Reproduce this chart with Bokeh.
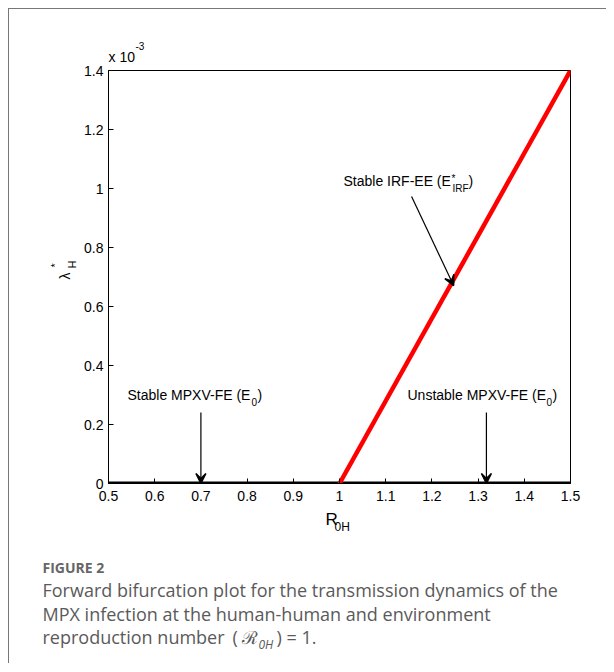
from math import pi
from bokeh.plotting import figure
from bokeh.models import (Range1d, FixedTicker, CustomJSTickFormatter, Label, Arrow, VeeHead)
from bokeh.layouts import column, row
from bokeh.embed import file_html
from bokeh.resources import INLINE

# ---- data -------------------------------------------------------------
dfe_r = [0.5, 1.5]            # disease-free equilibrium branch (lambda*_H = 0)
dfe_lambda = [0.0, 0.0]
ee_r = [1.0, 1.5]             # endemic equilibrium branch
ee_lambda = [0.0, 1.4e-3]

x_ticks = [0.5, 0.6, 0.7, 0.8, 0.9, 1.0, 1.1, 1.2, 1.3, 1.4, 1.5]
y_ticks = [0.0, 0.2e-3, 0.4e-3, 0.6e-3, 0.8e-3, 1.0e-3, 1.2e-3, 1.4e-3]

# annotation arrows: (x_start, y_start, x_end, y_end)
arrow_stable_dfe = (0.7, 0.2407e-3, 0.7, 0.0)
arrow_unstable_dfe = (1.318, 0.2407e-3, 1.318, 0.0)
arrow_ee = (1.156, 0.973e-3, 1.247, 0.671e-3)

# ---- layout constants (page pixels) -------------------------------------
W = 597                      # content width inside the card border
CX, CY = 9, 9                # content origin on page
TOP_H = 55                   # strip above the plot (x 10^-3)
LEFT_W = 69                  # strip left of the plot (y label)
FL, FR, FT, FB = 108, 570, 70, 483   # frame edges on the page
MAIN_TOP = CY + TOP_H        # 64
MAIN_BOTTOM = 508
CAP_BOTTOM = 663
X0, X1, Y0, Y1 = 0.5, 1.5, 0.0, 1.4e-3
FONT = "Liberation Sans"
BASE_CORR = 0.45             # baseline correction (fraction of font size)


def d(px, py):
    """page pixel -> data coords of the main plot"""
    return (X0 + (px - FL) / (FR - FL) * (X1 - X0),
            Y0 + (FB - py) / (FB - FT) * (Y1 - Y0))


def strip(x0, x1, y0, y1):
    f = figure(width=x1 - x0, height=y1 - y0, x_range=Range1d(x0, x1), y_range=Range1d(y1, y0),
               output_backend="svg", toolbar_location=None, title=None,
               x_axis_location=None, y_axis_location=None,
               min_border=0, min_border_left=0, min_border_right=0,
               min_border_top=0, min_border_bottom=0)
    f.grid.visible = False
    f.outline_line_color = None
    f.background_fill_color = "white"
    f.border_fill_color = "white"
    return f


def slab(f, x, y, text, size, font=FONT, color="black", style="normal", align="left", angle=0.0):
    if angle == 0.0:
        y = y - BASE_CORR * size
    f.add_layout(Label(x=x, y=y, text=text, text_font=font, text_font_size=f"{size}px",
                       text_color=color, text_baseline="alphabetic", text_align=align,
                       angle=angle, text_font_style=style))


# ---- main plot ------------------------------------------------------------
main_w = W - LEFT_W
p = figure(width=main_w, height=MAIN_BOTTOM - MAIN_TOP,
           x_range=Range1d(X0, X1), y_range=Range1d(Y0, Y1),
           output_backend="svg", toolbar_location=None, title=None,
           min_border_left=FL - (CX + LEFT_W), min_border_right=main_w - (FL - (CX + LEFT_W)) - (FR - FL),
           min_border_top=FT - MAIN_TOP, min_border_bottom=MAIN_BOTTOM - FB)
p.background_fill_color = "white"
p.border_fill_color = "white"
p.outline_line_color = "black"
p.outline_line_width = 1
p.outline_line_alpha = 1
p.xgrid.visible = False
p.ygrid.visible = False

for ax in (p.xaxis[0], p.yaxis[0]):
    ax.axis_line_color = "black"
    ax.axis_line_width = 1
    ax.major_tick_in = 5
    ax.major_tick_out = 0
    ax.minor_tick_line_color = None
    ax.major_tick_line_color = "black"
    ax.major_label_text_font = FONT
    ax.major_label_text_font_size = "14px"
    ax.major_label_text_color = "black"

p.xaxis.ticker = FixedTicker(ticks=x_ticks)
p.xaxis.formatter = CustomJSTickFormatter(code="return Number(tick.toFixed(1)).toString();")
p.xaxis.major_label_standoff = 7
p.yaxis.ticker = FixedTicker(ticks=y_ticks)
p.yaxis.formatter = CustomJSTickFormatter(code="return Number((tick*1000).toFixed(1)).toString();")
p.yaxis.major_label_standoff = 5

p.line(dfe_r, dfe_lambda, line_color="black", line_width=4)
p.line(ee_r, ee_lambda, line_color="#ff0000", line_width=4.5)

for (xs, ys, xe, ye) in (arrow_stable_dfe, arrow_unstable_dfe, arrow_ee):
    p.add_layout(Arrow(x_start=xs, y_start=ys, x_end=xe, y_end=ye, line_color="black", line_width=1.2,
                       end=VeeHead(size=10, fill_color="black", fill_alpha=1.0,
                                   line_color="black", line_width=1.5)))


def lab(px, py, text, size):
    x, y = d(px, py - BASE_CORR * size)
    p.add_layout(Label(x=x, y=y, text=text, text_font=FONT, text_font_size=f"{size}px",
                       text_align="left", text_baseline="alphabetic", text_color="black"))


lab(127, 401, "Stable MPXV-FE (E", 14)
lab(251, 406, "0", 10)
lab(257, 401, ")", 14)
lab(407, 401, "Unstable MPXV-FE (E", 14)
lab(546, 406, "0", 10)
lab(552, 401, ")", 14)
lab(343, 187, "Stable IRF-EE (E", 14)
lab(451, 182, "*", 10)
lab(452, 192, "IRF", 10)
lab(468, 187, ")", 14)

# ---- strip above the plot: exponent -------------------------------------
top = strip(CX, CX + W, CY, MAIN_TOP)
slab(top, 108, 63, "x 10", 14)
slab(top, 135, 50, "-3", 10)

# ---- strip left of the plot: y label ------------------------------------
left = strip(CX, CX + LEFT_W, MAIN_TOP, MAIN_BOTTOM)
slab(left, 64.5, 285, "λ", 14, align="center", angle=pi / 2)
slab(left, 54, 273.5, "*", 11, align="center", angle=pi / 2)
slab(left, 71, 272.5, "H", 11, align="center", angle=pi / 2)

# ---- strip below: x label and caption -----------------------------------
cap = strip(CX, CX + W, MAIN_BOTTOM, CAP_BOTTOM)
slab(cap, 325, 527, "R", 17)
slab(cap, 334, 532, "0H", 12)

CAPF = "Open Sans"
CAPC = "#5a5a5a"
slab(cap, 42, 573, "FIGURE 2", 14, font=CAPF, color="#666666", style="bold")
slab(cap, 42, 598, "Forward bifurcation plot for the transmission dynamics of the", 18, font=CAPF, color=CAPC)
slab(cap, 42, 621.5, "MPX infection at the human-human and environment", 18, font=CAPF, color=CAPC)
slab(cap, 42, 645, "reproduction number", 18, font=CAPF, color=CAPC)
slab(cap, 232, 645, "(", 18, font=CAPF, color=CAPC)
slab(cap, 241, 645, "ℛ", 18, font="DejaVu Serif", color=CAPC)
slab(cap, 258, 649, "0H", 12, font=CAPF, color=CAPC, style="italic")
slab(cap, 276, 645, ") = 1.", 18, font=CAPF, color=CAPC)

layout = column(top, row(left, p), cap, margin=(8, 0, 0, 8),
                styles={"border-left": "1px solid #777777", "border-top": "1px solid #777777"})

open("out.html", "w").write(file_html(layout, INLINE))
